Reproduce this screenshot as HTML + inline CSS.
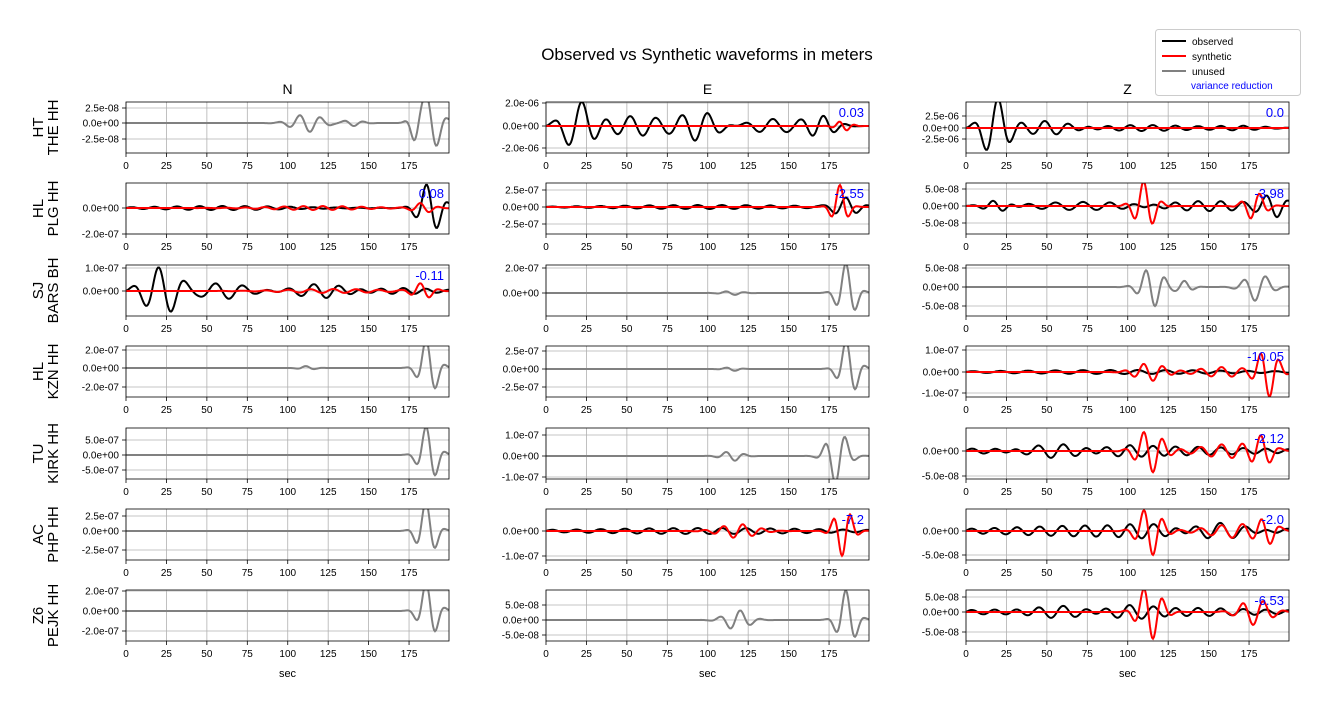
<!DOCTYPE html>
<html><head><meta charset="utf-8"><style>
body{margin:0;background:#fff;}
svg text{font-family:"Liberation Sans",sans-serif;}
</style></head><body>
<div id="d"></div>
<script>
const cols=[126,546,966], W=323, rowsY=[102,183,265,346,428,509,590], H=51;
const T=199.7;
let h='<svg width="1329" height="709" xmlns="http://www.w3.org/2000/svg">';
h+='<text x="707" y="60" font-size="17" text-anchor="middle">Observed vs Synthetic waveforms in meters</text>';
['N','E','Z'].forEach((c,i)=>h+=`<text x="${cols[i]+W/2}" y="94" font-size="14" text-anchor="middle">${c}</text>`);
const stations=[['HT','THE HH'],['HL','PLG HH'],['SJ','BARS BH'],['HL','KZN HH'],['TU','KIRK HH'],['AC','PHP HH'],['Z6','PEJK HH']];
function wave(b,t){let v=0;for(const q of b){const c=q[0],w=q[1],a=q[2],per=q[3];const u=(t-c)/w;v+=a*Math.exp(-u*u)*Math.sin(2*Math.PI*t/per);}return v;}
const G='#808080',K='#000',R='#f00';
const PANELS=[
[{t:[['2.5e-08',108],['0.0e+00',123],['-2.5e-08',139]],z:123,s:[[G,[[112,12,9,13],[140,8,3,12],[180,5,15,12],[188,8,30,14]]]]},
 {t:[['2.0e-06',103],['0.0e+00',126],['-2.0e-06',148]],z:126,vr:'0.03',s:[[K,[[20,12,24,18],[55,25,10,16],[95,15,14,16],[140,20,7,17],[170,12,10,14]]],[R,[[185,6,5,10]]]]},
 {t:[['2.5e-06',116],['0.0e+00',128],['-2.5e-06',139]],z:128,vr:'0.0',s:[[K,[[18,10,30,16],[50,20,7,15],[110,40,3,14],[170,20,2,14]]],[R,[]]]}],
[{t:[['0.0e+00',208],['-2.0e-07',234]],z:208,vr:'0.08',s:[[K,[[60,60,2,14],[188,9,25,14]]],[R,[[120,40,2,12],[185,8,5,12]]]]},
 {t:[['2.5e-07',190],['0.0e+00',207],['-2.5e-07',224]],z:207,vr:'-2.55',s:[[K,[[100,80,2,15],[185,10,9,14]]],[R,[[183,6,22,12]]]]},
 {t:[['5.0e-08',189],['0.0e+00',206],['-5.0e-08',223]],z:206,vr:'-3.98',s:[[K,[[20,10,6,13],[70,40,4,17],[150,40,5,14],[190,10,10,14]]],[R,[[112,8,25,12],[180,8,14,12]]]]}],
[{t:[['1.0e-07',268],['0.0e+00',291]],z:291,vr:'-0.11',s:[[K,[[22,14,24,16],[60,20,8,17],[120,20,7,16],[170,30,3,14]]],[R,[[130,40,2,14],[185,8,8,12]]]]},
 {t:[['2.0e-07',268],['0.0e+00',293]],z:293,s:[[G,[[115,8,2,12],[186,7,30,13]]]]},
 {t:[['5.0e-08',268],['0.0e+00',287],['-5.0e-08',306]],z:287,s:[[G,[[115,9,20,12],[135,6,6,12],[180,10,14,14]]]]}],
[{t:[['2.0e-07',350],['0.0e+00',368],['-2.0e-07',387]],z:368,s:[[G,[[112,6,2,12],[187,7,30,13]]]]},
 {t:[['2.5e-07',351],['0.0e+00',369],['-2.5e-07',387]],z:369,s:[[G,[[115,6,2,12],[187,7,30,13]]]]},
 {t:[['1.0e-07',350],['0.0e+00',372],['-1.0e-07',393]],z:372,vr:'-10.05',s:[[K,[[100,100,2,17]]],[R,[[115,12,9,12],[160,20,5,13],[188,8,25,12]]]]}],
[{t:[['5.0e-07',440],['0.0e+00',455],['-5.0e-07',470]],z:455,s:[[G,[[187,7,30,13]]]]},
 {t:[['1.0e-07',435],['0.0e+00',456],['-1.0e-07',477]],z:456,s:[[G,[[115,8,5,12],[180,8,28,13]]]]},
 {t:[['0.0e+00',451],['-5.0e-08',476]],z:451,vr:'-2.12',s:[[K,[[100,100,5,14],[60,40,3,19]]],[R,[[115,10,22,12],[165,25,7,13],[185,8,14,12]]]]}],
[{t:[['2.5e-07',516],['0.0e+00',531],['-2.5e-07',550]],z:531,s:[[G,[[186,7,30,13]]]]},
 {t:[['0.0e+00',531],['-1.0e-07',556]],z:531,vr:'-7.2',s:[[K,[[100,100,3,15]]],[R,[[120,15,7,12],[185,7,25,11]]]]},
 {t:[['0.0e+00',531],['-5.0e-08',555]],z:531,vr:'-2.0',s:[[K,[[100,100,6,14],[150,40,4,19]]],[R,[[115,9,25,12],[170,25,7,13],[188,7,12,12]]]]}],
[{t:[['2.0e-07',591],['0.0e+00',611],['-2.0e-07',631]],z:611,s:[[G,[[187,7,30,13]]]]},
 {t:[['5.0e-08',605],['0.0e+00',620],['-5.0e-08',635]],z:620,s:[[G,[[118,10,10,13],[186,7,30,13]]]]},
 {t:[['5.0e-08',597],['0.0e+00',612],['-5.0e-08',632]],z:612,vr:'-6.53',s:[[K,[[100,100,5,14],[80,40,3,19]]],[R,[[115,9,28,12],[180,12,13,13]]]]}]
];
let id=0;
PANELS.forEach((row,r)=>{
 const y0=rowsY[r];
 const cy=y0+H/2;
 h+=`<text transform="translate(43,${cy}) rotate(-90)" font-size="15" text-anchor="middle">${stations[r][0]}</text>`;
 h+=`<text transform="translate(58,${cy}) rotate(-90)" font-size="15" text-anchor="middle">${stations[r][1]}</text>`;
 row.forEach((p,c)=>{
  const x0=cols[c];id++;
  h+=`<clipPath id="c${id}"><rect x="${x0}" y="${y0}" width="${W}" height="${H}"/></clipPath>`;
  for(let k=0;k<=7;k++){const x=x0+k*25*W/T;
   h+=`<line x1="${x}" y1="${y0}" x2="${x}" y2="${y0+H}" stroke="#b0b0b0" stroke-width="0.8"/>`;
   h+=`<line x1="${x}" y1="${y0+H}" x2="${x}" y2="${y0+H+4}" stroke="#000" stroke-width="0.8"/>`;
   h+=`<text x="${x}" y="${y0+H+16}" font-size="10" text-anchor="middle">${k*25}</text>`;}
  p.t.forEach(([l,y])=>{
   h+=`<line x1="${x0}" y1="${y}" x2="${x0+W}" y2="${y}" stroke="#b0b0b0" stroke-width="0.8"/>`;
   h+=`<line x1="${x0-4}" y1="${y}" x2="${x0}" y2="${y}" stroke="#000" stroke-width="0.8"/>`;
   h+=`<text x="${x0-7}" y="${y+3.5}" font-size="10" text-anchor="end">${l}</text>`;});
  p.s.forEach(([col,b],si)=>{
   let d='';
   for(let i=0;i<=W;i++){const t=i*T/W;const v=wave(b,t+si*1.3);d+=(i?'L':'M')+(x0+i).toFixed(1)+','+(p.z-v).toFixed(1);}
   h+=`<path d="${d}" fill="none" stroke="${col}" stroke-width="2" clip-path="url(#c${id})"/>`;});
  if(p.vr) h+=`<text x="${x0+W-5}" y="${y0+15}" font-size="13" fill="#00f" text-anchor="end">${p.vr}</text>`;
  h+=`<rect x="${x0}" y="${y0}" width="${W}" height="${H}" fill="none" stroke="#000" stroke-width="0.8"/>`;
 });
});
for(let i=0;i<3;i++) h+=`<text x="${cols[i]+W/2}" y="677" font-size="11" text-anchor="middle">sec</text>`;
h+=`<rect x="1155.5" y="29.5" width="145" height="66" rx="3" fill="#fff" stroke="#ccc"/>`;
[['observed',K,41],['synthetic',R,56],['unused',G,71]].forEach(([l,c,y])=>{
 h+=`<line x1="1162" y1="${y}" x2="1186" y2="${y}" stroke="${c}" stroke-width="2"/>`;
 h+=`<text x="1192" y="${y+4}" font-size="10">${l}</text>`;});
h+=`<text x="1191" y="89" font-size="10" fill="#00f">variance reduction</text>`;
h+='</svg>';
document.getElementById('d').innerHTML=h;
</script>
</body></html>
